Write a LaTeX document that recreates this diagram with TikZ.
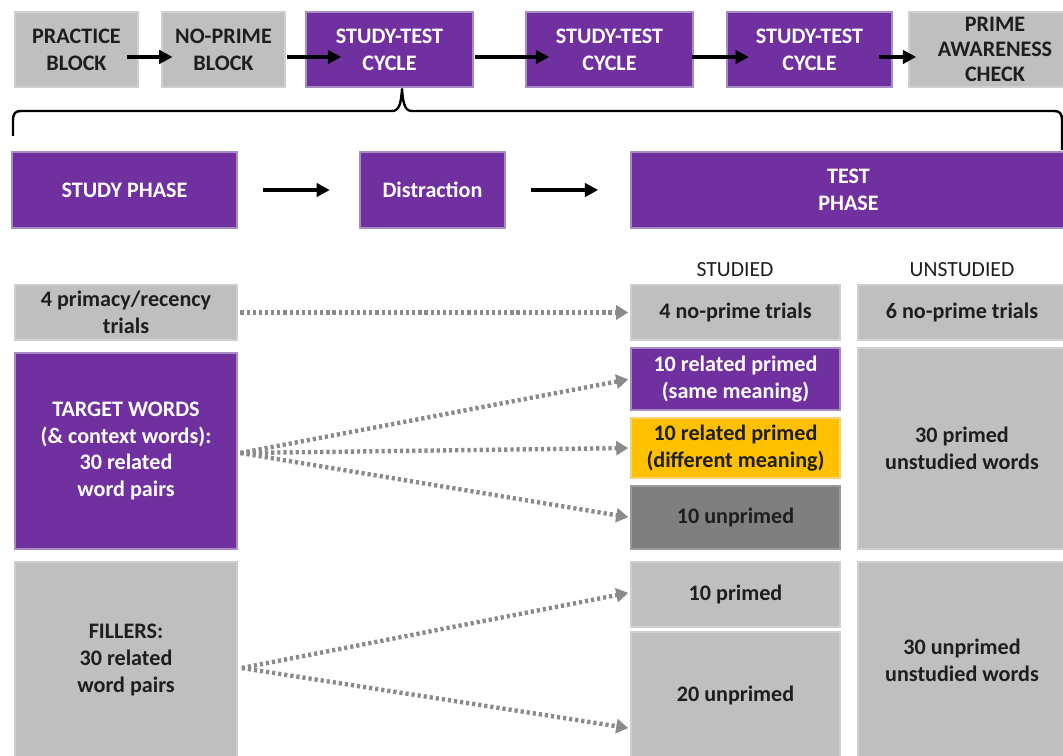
\documentclass[tikz,border=0pt]{standalone}
\usepackage{fontspec}
\setmainfont{Carlito}
\usetikzlibrary{arrows.meta,calc}

\definecolor{cpurple}{HTML}{7030A0}
\definecolor{cpurpleedge}{HTML}{A88CC4}
\definecolor{cgrey}{HTML}{BFBFBF}
\definecolor{cgreyedge}{HTML}{CFCFCF}
\definecolor{cdark}{HTML}{7F7F7F}
\definecolor{cdarkedge}{HTML}{9A9A9A}
\definecolor{cyellow}{HTML}{FFC000}
\definecolor{cyellowedge}{HTML}{F5D27A}
\definecolor{ctext}{HTML}{1E1E1E}
\definecolor{cdot}{HTML}{8A8A8A}

% box from pixel corners (x1,y1)-(x2,y2)
\newcommand\bx[7]{%
  \node[#1, minimum width={(#5-#3)*0.75pt}, minimum height={(#6-#4)*0.75pt}]
    (#2) at ({(#3+#5)/2},{(#4+#6)/2}) {#7};}

\tikzset{
  base/.style={rectangle, inner sep=0pt, align=center, line width=1.2pt,
    font=\bfseries\fontsize{16.6}{20}\selectfont},
  pbox/.style={base, fill=cpurple, draw=cpurpleedge, text=white},
  gbox/.style={base, fill=cgrey, draw=cgreyedge, text=ctext},
  dbox/.style={base, fill=cdark, draw=cdarkedge, text=ctext},
  ybox/.style={base, fill=cyellow, draw=cyellowedge, text=ctext},
  blackarrow/.style={draw=black, line width=3pt, -{Triangle[length=10pt,width=10pt]}},
  dotarrow/.style={draw=cdot, line width=3.3pt, dash pattern=on 2.4pt off 2.2pt,
    -{Triangle[length=9pt,width=10.5pt,fill=cdot]}, shorten >=1.5pt},
  colhead/.style={font=\fontsize{16.2}{19}\selectfont, text=ctext},
  bracepath/.style={draw=black, line width=1.8pt, line join=round}
}

\begin{document}
\begin{tikzpicture}[x=0.75pt,y=-0.75pt]
\useasboundingbox (0,0) rectangle (1063,756);
\clip (0,0) rectangle (1063,756);

% ---- procedure overview
\bx{gbox}{prac}{15}{12}{138}{87}{PRACTICE\\BLOCK}
\bx{gbox}{noprime}{162}{12}{285}{87}{NO-PRIME\\BLOCK}
\bx{pbox}{stA}{306}{12}{473}{87}{STUDY-TEST\\CYCLE}
\bx{pbox}{stB}{526}{12}{693}{87}{STUDY-TEST\\CYCLE}
\bx{pbox}{stC}{727}{12}{892}{87}{STUDY-TEST\\CYCLE}
\node[gbox, minimum width={172*0.75pt}, minimum height={75*0.75pt},
  font=\bfseries\fontsize{16.6}{18.6}\selectfont] (pac) at (995,49.5)
  {PRIME\\AWARENESS\\CHECK};

\draw[blackarrow] ([xshift=-9pt,yshift=-5.6pt]prac.east) -- ([xshift=8.5pt,yshift=-5.6pt]noprime.west);
\draw[blackarrow] ([xshift=1pt,yshift=-5.6pt]noprime.east) -- ([xshift=27pt,yshift=-5.6pt]stA.west);
\draw[blackarrow] ([xshift=1pt,yshift=-5.6pt]stA.east) -- ([xshift=18pt,yshift=-5.6pt]stB.west);
\draw[blackarrow] ([xshift=-1pt,yshift=-5.6pt]stB.east) -- ([xshift=17pt,yshift=-5.6pt]stC.west);
\draw[blackarrow] ([xshift=-10.5pt,yshift=-5.6pt]stC.east) -- ([xshift=6pt,yshift=-5.6pt]pac.west);

% ---- brace under the first cycle
\coordinate (bl) at (13,136);
\coordinate (br) at (1062,150);
\draw[bracepath] (bl) -- (13,121) .. controls (13,113) and (15,111) .. (22,111)
  -- (392,111) .. controls (399,111) and (401,104) .. (402,89)
  .. controls (403,104) and (405,111) .. (412,111)
  -- (1053,111) .. controls (1060,111) and (1062,113) .. (1062,121) -- (br);

% ---- phases of one cycle
\bx{pbox}{study}{12}{152}{237}{228}{STUDY PHASE}
\bx{pbox}{distr}{360}{152}{505}{228}{Distraction}
\bx{pbox}{test}{631}{152}{1066}{228}{TEST\\PHASE}

\draw[blackarrow] ([xshift=19pt]study.east) -- ([xshift=-22pt]distr.west);
\draw[blackarrow] ([xshift=19pt]distr.east) -- ([xshift=-24pt]test.west);

% ---- column headings
\node[colhead] (hs) at (735,270) {STUDIED};
\node[colhead] (hu) at (962,270) {UNSTUDIED};

% ---- study-phase items
\bx{gbox}{prim}{15}{285}{237}{340}{4 primacy/recency\\trials}
\bx{pbox}{target}{15}{353}{237}{549}{TARGET WORDS\\(\& context words):\\30 related\\word pairs}
\bx{gbox}{fill}{15}{562}{237}{758}{FILLERS:\\30 related\\word pairs}

% ---- test-phase items, studied
\bx{gbox}{np4}{631}{285}{840}{340}{4 no-prime trials}
\bx{pbox}{same}{631}{348}{840}{410}{10 related primed\\(same meaning)}
\bx{ybox}{diff}{631}{418}{840}{478}{10 related primed\\(different meaning)}
\bx{dbox}{unpr}{631}{486}{840}{549}{10 unprimed}
\bx{gbox}{pr10}{631}{562}{840}{627}{10 primed}
\bx{gbox}{unpr20}{631}{632}{840}{758}{20 unprimed}

% ---- test-phase items, unstudied
\bx{gbox}{np6}{858}{285}{1066}{340}{6 no-prime trials}
\bx{gbox}{pu30}{858}{348}{1066}{549}{30 primed\\unstudied words}
\bx{gbox}{uu30}{858}{562}{1066}{758}{30 unprimed\\unstudied words}

% ---- study items to test trials
\draw[dotarrow] ([xshift=2pt]prim.east) -- (np4.west);
\draw[dotarrow] ([xshift=2pt,yshift=-1.5pt]target.east) -- (same.west);
\draw[dotarrow] ([xshift=2pt,yshift=-1.5pt]target.east) -- (diff.west);
\draw[dotarrow] ([xshift=2pt,yshift=-1.5pt]target.east) -- (unpr.west);
\draw[dotarrow] ([xshift=3pt,yshift=-6pt]fill.east) -- ([yshift=1.5pt]pr10.west);
\draw[dotarrow] ([xshift=3pt,yshift=-6pt]fill.east) -- ([yshift=-25pt]unpr20.west);
\end{tikzpicture}
\end{document}
